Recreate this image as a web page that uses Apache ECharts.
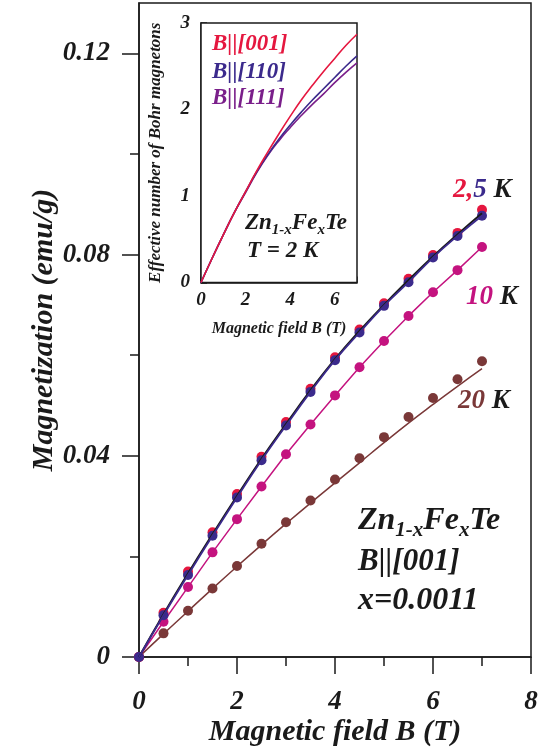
<!DOCTYPE html>
<html>
<head>
<meta charset="utf-8">
<script src="https://cdn.jsdelivr.net/npm/echarts@6/dist/echarts.min.js"></script>
<style>
  html, body { margin: 0; padding: 0; background: #fff; }
  #chart { width: 551px; height: 754px; }
</style>
</head>
<body>
<div id="chart"></div>
<script>
// field values (T)
const fieldB = [0, 0.5, 1, 1.5, 2, 2.5, 3, 3.5, 4, 4.5, 5, 5.5, 6, 6.5, 7];

// magnetization (emu/g)
const m2K  = [0, 0.0088, 0.0170, 0.0248, 0.0324, 0.0398, 0.0467, 0.0533, 0.0596, 0.0651, 0.0703, 0.0752, 0.0799, 0.0843, 0.0889];
const m5K  = [0, 0.0083, 0.0163, 0.0241, 0.0317, 0.0391, 0.0460, 0.0527, 0.0590, 0.0645, 0.0698, 0.0745, 0.0794, 0.0837, 0.0877];
const m10K = [0, 0.0070, 0.0139, 0.0208, 0.0274, 0.0339, 0.0403, 0.0462, 0.0520, 0.0576, 0.0628, 0.0678, 0.0725, 0.0769, 0.0815];
const m20K = [0, 0.0047, 0.0092, 0.0136, 0.0181, 0.0225, 0.0268, 0.0311, 0.0353, 0.0395, 0.0437, 0.0477, 0.0515, 0.0552, 0.0588];

// theory lines
const fit2K  = [0, 0.0085, 0.0166, 0.0244, 0.0320, 0.0394, 0.0463, 0.0530, 0.0592, 0.0648, 0.0700, 0.0749, 0.0796, 0.0840, 0.0882];
const fit20K = [0, 0.0046, 0.0091, 0.0136, 0.0180, 0.0223, 0.0265, 0.0306, 0.0346, 0.0386, 0.0426, 0.0465, 0.0502, 0.0538, 0.0573];

// inset: effective number of Bohr magnetons, T = 2 K
const nB001 = [0, 0.28, 0.55, 0.81, 1.05, 1.29, 1.51, 1.72, 1.92, 2.11, 2.28, 2.44, 2.59, 2.74, 2.87];
const nB110 = [0, 0.28, 0.55, 0.81, 1.05, 1.28, 1.48, 1.66, 1.82, 1.97, 2.11, 2.24, 2.37, 2.50, 2.62];
const nB111 = [0, 0.28, 0.55, 0.81, 1.04, 1.27, 1.47, 1.64, 1.79, 1.93, 2.06, 2.18, 2.31, 2.43, 2.54];

const mainYTicks = [0, 0.04, 0.08, 0.12];
const mainYMinor = [0.02, 0.06, 0.10];

const RED = '#e5173f', BLUE = '#3b2a8c', MAG = '#c4137f', BROWN = '#7a3838', PURPLE = '#7a1f8a', BLACK = '#1a1a1a';
const FONT = '"Liberation Serif", "Times New Roman", serif';

const pairs = arr => fieldB.map((b, i) => [b, arr[i]]);

// text runs with subscripts
const ctx = document.createElement('canvas').getContext('2d');
function runs(x, y, parts) {
  const out = [];
  parts.forEach(([t, size, color, dy]) => {
    out.push({
      type: 'text', x: x, y: y + (dy || 0), z: 100,
      style: { text: t, fontFamily: FONT, fontSize: size, fontWeight: 'bold', fontStyle: 'italic', fill: color, verticalAlign: 'middle' }
    });
    ctx.font = 'italic bold ' + size + 'px ' + FONT;
    x += ctx.measureText(t).width;
  });
  return out;
}

const axisFont = { fontFamily: FONT, fontWeight: 'bold', fontStyle: 'italic', color: BLACK };
const lineStyle = { color: BLACK, width: 1.5 };

const chart = echarts.init(document.getElementById('chart'));

const graphics = [].concat(
  runs(358, 521, [['Zn', 32, BLACK], ['1-x', 21, BLACK, 10], ['Fe', 32, BLACK], ['x', 21, BLACK, 10], ['Te', 32, BLACK]]),
  runs(358, 562, [['B||[001]', 31, BLACK]]),
  runs(358, 601, [['x=0.0011', 32, BLACK]]),
  runs(453, 190, [['2,', 27, RED], ['5', 27, BLUE], [' K', 27, BLACK]]),
  runs(466, 297, [['10', 27, MAG], [' K', 27, BLACK]]),
  runs(458, 401, [['20', 27, BROWN], [' K', 27, BLACK]]),
  runs(212, 44, [['B||[001]', 23, RED]]),
  runs(212, 72, [['B||[110]', 23, BLUE]]),
  runs(212, 98, [['B||[111]', 23, PURPLE]]),
  runs(245, 223, [['Zn', 23, BLACK], ['1-x', 15, BLACK, 7], ['Fe', 23, BLACK], ['x', 15, BLACK, 7], ['Te', 23, BLACK]]),
  runs(247, 251, [['T = 2 K', 23, BLACK]])
);

chart.setOption({
  animation: false,
  backgroundColor: '#fff',
  grid: [
    { left: 139, right: 20, top: 3, bottom: 97, show: true, borderColor: BLACK, borderWidth: 1.5 },
    { left: 201, top: 23, width: 156, height: 259.5, show: true, borderColor: BLACK, borderWidth: 1.5, backgroundColor: '#fff', z: 5 }
  ],
  xAxis: [
    {
      type: 'value', gridIndex: 0, min: 0, max: 8, interval: 2,
      name: 'Magnetic field B (T)', nameLocation: 'middle', nameGap: 60, nameMoveOverlap: false,
      nameTextStyle: Object.assign({ fontSize: 30 }, axisFont),
      axisLine: { lineStyle: lineStyle },
      axisTick: { inside: false, length: 17, lineStyle: lineStyle },
      minorTick: { show: true, splitNumber: 2, length: 9, lineStyle: lineStyle },
      splitLine: { show: false },
      axisLabel: Object.assign({ fontSize: 27, margin: 32 }, axisFont)
    },
    {
      type: 'value', gridIndex: 1, min: 0, max: 7, interval: 1,
      name: 'Magnetic field B (T)', nameLocation: 'middle', nameGap: 38, nameMoveOverlap: false,
      nameTextStyle: Object.assign({ fontSize: 16 }, axisFont),
      axisLine: { lineStyle: lineStyle },
      axisTick: { inside: true, length: 6, lineStyle: lineStyle },
      splitLine: { show: false },
      axisLabel: Object.assign({ fontSize: 19, margin: 8, customValues: [0, 2, 4, 6] }, axisFont)
    }
  ],
  yAxis: [
    {
      type: 'value', gridIndex: 0, min: 0, max: 0.13,
      name: 'Magnetization (emu/g)', nameLocation: 'middle', nameGap: 80, nameMoveOverlap: false,
      nameTextStyle: Object.assign({ fontSize: 30 }, axisFont),
      axisLine: { lineStyle: lineStyle },
      axisTick: { inside: false, length: 17, lineStyle: lineStyle, customValues: mainYTicks },
      splitLine: { show: false },
      axisLabel: Object.assign({ fontSize: 27, margin: 29, customValues: mainYTicks }, axisFont)
    },
    {
      type: 'value', gridIndex: 0, min: 0, max: 0.13, position: 'left',
      axisLine: { show: false },
      axisTick: { inside: false, length: 9, lineStyle: lineStyle, customValues: mainYMinor },
      axisLabel: { show: false },
      splitLine: { show: false }
    },
    {
      type: 'value', gridIndex: 1, min: 0, max: 3, interval: 0.5,
      name: 'Effective number of Bohr magnetons', nameLocation: 'middle', nameGap: 37, nameMoveOverlap: false,
      nameTextStyle: Object.assign({ fontSize: 17 }, axisFont),
      axisLine: { lineStyle: lineStyle },
      axisTick: { inside: true, length: 6, lineStyle: lineStyle },
      splitLine: { show: false },
      axisLabel: Object.assign({ fontSize: 19, margin: 11, customValues: [0, 1, 2, 3] }, axisFont)
    }
  ],
  series: [
    { type: 'line', name: 'fit 20K', data: pairs(fit20K), smooth: true, showSymbol: false,
      lineStyle: { color: BROWN, width: 1.5 }, z: 2 },
    { type: 'scatter', name: '20 K', data: pairs(m20K), symbolSize: 10, itemStyle: { color: BROWN, opacity: 1 }, z: 3 },
    { type: 'line', name: '10 K', data: pairs(m10K), symbol: 'circle', symbolSize: 10,
      lineStyle: { color: MAG, width: 1.5 }, itemStyle: { color: MAG, opacity: 1 }, z: 3 },
    { type: 'scatter', name: '2 K', data: pairs(m2K), symbolSize: 10, itemStyle: { color: RED, opacity: 1 }, z: 3 },
    { type: 'scatter', name: '5 K', data: pairs(m5K), symbolSize: 10, itemStyle: { color: BLUE, opacity: 1 }, z: 4 },
    { type: 'line', name: 'fit 2K', data: pairs(fit2K), smooth: true, showSymbol: false,
      lineStyle: { color: BLACK, width: 2 }, z: 5 },
    { type: 'line', name: 'fit 5K', data: pairs(m5K), smooth: true, showSymbol: false,
      lineStyle: { color: BLUE, width: 1.8 }, z: 5 },

    { type: 'line', xAxisIndex: 1, yAxisIndex: 2, data: pairs(nB111), smooth: true, showSymbol: false,
      lineStyle: { color: PURPLE, width: 1.6 }, z: 6 },
    { type: 'line', xAxisIndex: 1, yAxisIndex: 2, data: pairs(nB110), smooth: true, showSymbol: false,
      lineStyle: { color: BLUE, width: 1.6 }, z: 6 },
    { type: 'line', xAxisIndex: 1, yAxisIndex: 2, data: pairs(nB001), smooth: true, showSymbol: false,
      lineStyle: { color: RED, width: 1.6 }, z: 6 }
  ],
  graphic: graphics
});
</script>
</body>
</html>
